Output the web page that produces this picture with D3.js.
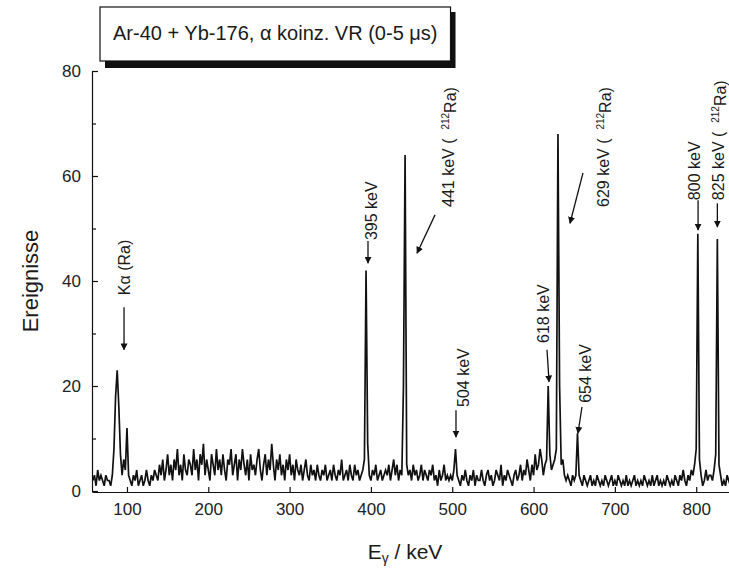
<!DOCTYPE html>
<html>
<head>
<meta charset="utf-8">
<script src="https://cdn.jsdelivr.net/npm/d3@7"></script>
<style>
	body { margin: 0; background: #fff; }
	text { font-family: "Liberation Sans", Arial, sans-serif; fill: #1a1a1a; }
</style>
</head>
<body>
<script>
// gamma spectrum, counts per 2 keV bin, first bin at 58 keV
let binStart = 58,
	binWidth = 2;

let counts = [
	2,3,1,4,2,3,2,1,3,2,2,1,3,8,18,23,16,7,3,6,
	4,12,3,2,1,3,2,4,1,2,3,1,2,4,2,1,3,2,4,3,
	2,5,3,6,2,4,7,3,5,2,6,4,8,3,5,2,7,4,3,6,
	5,3,8,4,6,2,7,5,9,3,6,4,2,7,5,3,8,4,6,3,
	7,4,2,6,5,8,3,5,7,2,6,4,8,5,3,6,2,7,4,5,
	3,6,8,4,2,5,7,3,6,4,9,5,2,6,4,7,3,5,2,6,
	4,7,3,5,2,6,4,3,5,2,4,6,3,2,5,3,4,2,5,3,
	2,4,3,5,2,3,4,2,5,3,2,4,3,6,2,3,4,2,5,3,
	2,5,3,4,2,3,4,6,42,9,3,2,4,3,5,2,3,4,2,3,
	4,3,5,2,4,6,3,5,2,4,3,20,64,5,3,4,2,5,3,4,
	2,3,5,2,4,3,2,4,3,5,2,3,1,4,2,3,5,2,3,2,
	3,2,4,8,3,2,1,3,2,4,2,1,3,2,4,1,3,2,2,4,
	2,1,3,4,2,3,1,2,4,3,2,5,1,3,2,4,3,2,1,3,
	4,2,3,5,2,4,3,6,4,2,5,3,7,4,5,8,6,3,5,6,
	20,7,4,5,6,8,68,20,5,6,3,2,3,2,1,3,2,3,11,3,
	2,1,3,2,1,2,3,1,2,1,3,2,1,2,1,3,2,1,2,3,
	1,2,1,3,2,1,2,1,3,1,2,1,2,3,1,2,1,2,1,3,
	2,1,2,1,3,1,2,3,1,2,1,2,1,3,2,1,2,1,3,2,
	1,3,2,4,2,1,3,2,4,3,5,8,49,6,3,1,2,4,2,3,
	3,2,4,7,48,5,3,1,2,1,3,2,1,2,3,1,2,1,2,1,
	2,1
];

let xTicks = [100, 200, 300, 400, 500, 600, 700, 800];
let yTicks = [0, 20, 40, 60, 80];
let yMinorTicks = [10, 30, 50, 70];

let title = "Ar-40 + Yb-176, \u03b1 koinz. VR (0-5 \u03bcs)";

// peak labels: text before the superscript, superscript, rest
let peakLabels = [
	["K\u03b1 (Ra)", "", ""],
	["395 keV", "", ""],
	["441 keV (  ", "212", "Ra)"],
	["504 keV", "", ""],
	["618 keV", "", ""],
	["629 keV (  ", "212", "Ra)"],
	["654 keV", "", ""],
	["800 keV", "", ""],
	["825 keV (  ", "212", "Ra)"]
];

// where each label and its arrow sit, in keV / counts
let labelLayout = [
	{ tx: 96.4, ty: 37.3, a: [96.4, 35, 96.4, 26.9] },
	{ tx: 401, ty: 47.8, a: [396.4, 47.6, 396.4, 43.4] },
	{ tx: 495, ty: 54.1, a: [478.8, 52.6, 456.7, 45.3] },
	{ tx: 513.2, ty: 16, a: [504.6, 15.4, 504.6, 10.3] },
	{ tx: 611.6, ty: 28.2, a: [616.5, 26.9, 619, 20.8] },
	{ tx: 685.4, ty: 54.1, a: [660.8, 60.6, 644.8, 51] },
	{ tx: 663.2, ty: 16.8, a: [659.5, 16, 654.6, 11] },
	{ tx: 797.5, ty: 55.4, a: [802.3, 55.4, 802.3, 49.7] },
	{ tx: 827, ty: 55.4, a: [826, 54.8, 826, 50.3] }
];

let svgWidth = 729,
	svgHeight = 571;

let svg = d3
	.select("body")
	.append("svg")
	.attr("width", svgWidth)
	.attr("height", svgHeight);

let x = d3.scaleLinear().domain([57, 860]).range([92, 745]);
let y = d3.scaleLinear().domain([0, 80]).range([491, 71]);

//arrow head
svg.append("defs")
	.append("marker")
	.attr("id", "head")
	.attr("viewBox", "0 0 10 10")
	.attr("refX", 9)
	.attr("refY", 5)
	.attr("markerWidth", 7)
	.attr("markerHeight", 7)
	.attr("markerUnits", "userSpaceOnUse")
	.attr("orient", "auto")
	.append("path")
	.attr("d", "M0,0 L10,5 L0,10 z")
	.style("fill", "#111");

//Spectrum
let line = d3.line()
	.x((d, i) => x(binStart + i * binWidth))
	.y(d => y(d));

svg.append("path")
	.datum(counts)
	.attr("d", line)
	.style("fill", "none")
	.style("stroke", "#111")
	.style("stroke-width", 1.7)
	.style("stroke-linejoin", "miter");

//Axes
svg.append("g")
	.attr("transform", `translate(0,${y(0) + 1})`)
	.call(d3.axisBottom(x).tickValues(xTicks).tickSizeInner(-5).tickSizeOuter(0).tickPadding(11));

svg.append("g")
	.attr("transform", `translate(${x.range()[0]},0)`)
	.call(d3.axisLeft(y).tickValues(yTicks).tickSizeInner(-6).tickSizeOuter(0).tickPadding(11));

svg.append("g")
	.attr("transform", `translate(${x.range()[0]},0)`)
	.call(d3.axisLeft(y).tickValues(yMinorTicks).tickSize(-4).tickFormat(""))
	.select(".domain").remove();

svg.selectAll(".tick text")
	.style("font-size", "17px")
	.style("font-family", "'Liberation Sans', Arial, sans-serif")
	.style("fill", "#222");
svg.selectAll(".domain, .tick line").style("stroke", "#111").style("stroke-width", 1.2);

//Axis titles
svg.append("text")
	.attr("transform", `translate(38,${(y(0) + y(80)) / 2}) rotate(-90)`)
	.attr("text-anchor", "middle")
	.style("font-size", "22px")
	.text("Ereignisse");

let xTitle = svg.append("text")
	.attr("x", 405)
	.attr("y", 559)
	.attr("text-anchor", "middle")
	.style("font-size", "21px");
xTitle.append("tspan").text("E");
xTitle.append("tspan").attr("dy", 4).style("font-size", "14px").text("\u03b3");
xTitle.append("tspan").attr("dy", -4).text(" / keV");

//Peak labels
peakLabels.forEach((p, i) => {
	let l = labelLayout[i];
	let t = svg.append("text")
		.attr("transform", `translate(${x(l.tx)},${y(l.ty)}) rotate(-90)`)
		.attr("dy", "0.35em")
		.style("font-size", "16px");
	t.append("tspan").style("white-space", "pre").text(p[0]);
	if (p[1]) {
		t.append("tspan").attr("dy", "-0.45em").style("font-size", "10px").text(p[1]);
		t.append("tspan").attr("dy", "0.45em").text(p[2]);
	}
	svg.append("line")
		.attr("x1", x(l.a[0]))
		.attr("y1", y(l.a[1]))
		.attr("x2", x(l.a[2]))
		.attr("y2", y(l.a[3]))
		.style("stroke", "#111")
		.style("stroke-width", 1.3)
		.attr("marker-end", "url(#head)");
});

//Title box with shadow
let titleBox = svg.append("g");
let titleText = titleBox.append("text")
	.attr("x", 113)
	.attr("y", 40)
	.style("font-size", "20px")
	.text(title);
let tw = titleText.node().getComputedTextLength();

titleBox.insert("rect", "text")
	.attr("x", 105)
	.attr("y", 12)
	.attr("width", tw + 26)
	.attr("height", 56)
	.style("fill", "#111");
titleBox.insert("rect", "text")
	.attr("x", 100)
	.attr("y", 7)
	.attr("width", tw + 26)
	.attr("height", 54)
	.style("fill", "#fff")
	.style("stroke", "#111")
	.style("stroke-width", 1.2);
</script>
</body>
</html>
